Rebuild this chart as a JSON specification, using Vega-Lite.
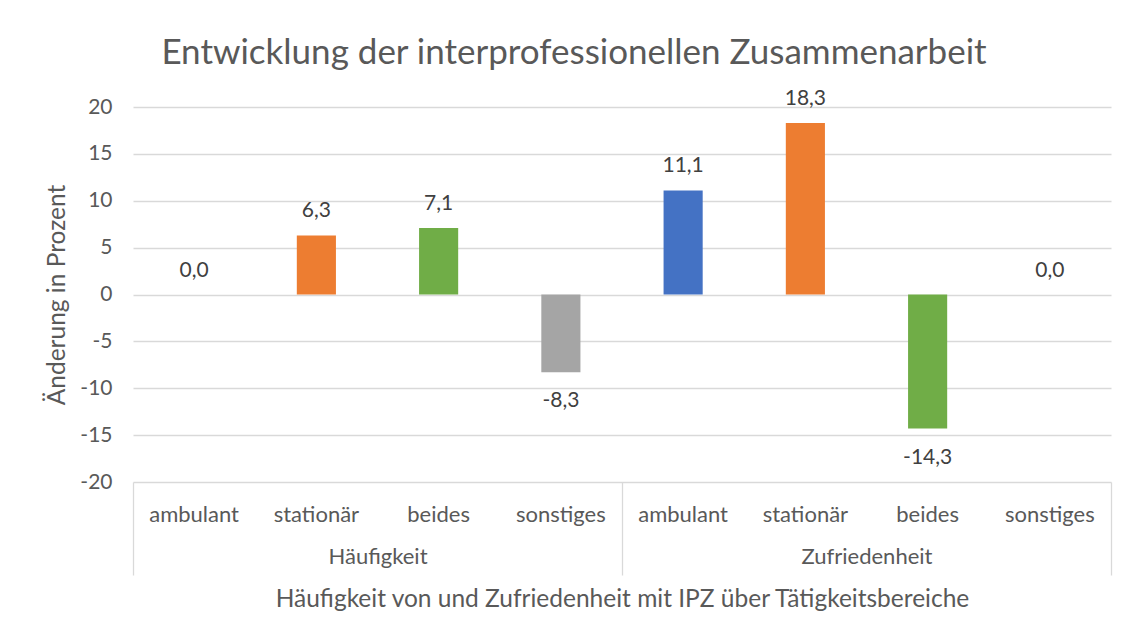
{
  "$schema": "https://vega.github.io/schema/vega-lite/v6.json",
  "width": 978,
  "height": 375,
  "autosize": {"type": "none"},
  "padding": {"left": 133, "top": 107, "right": 20, "bottom": 155},
  "background": "white",
  "config": {
    "locale": {"number": {"decimal": ",", "thousands": ".", "grouping": [3], "currency": ["", " €"], "minus": "-"}},
    "font": "Lato",
    "view": {"stroke": null},
    "axis": {"labelColor": "#595959", "titleColor": "#595959", "labelFont": "Lato", "titleFont": "Lato", "titleFontWeight": "normal"}
  },
  "title": {
    "text": "Entwicklung der interprofessionellen Zusammenarbeit",
    "fontSize": 35,
    "font": "Lato",
    "fontWeight": "normal",
    "color": "#595959",
    "anchor": "middle",
    "dx": -48,
    "offset": 17
  },
  "data": {
    "values": [
      {"key": "H|ambulant", "gruppe": "Häufigkeit", "kategorie": "ambulant", "wert": 0.0},
      {"key": "H|stationär", "gruppe": "Häufigkeit", "kategorie": "stationär", "wert": 6.3},
      {"key": "H|beides", "gruppe": "Häufigkeit", "kategorie": "beides", "wert": 7.1},
      {"key": "H|sonstiges", "gruppe": "Häufigkeit", "kategorie": "sonstiges", "wert": -8.3},
      {"key": "Z|ambulant", "gruppe": "Zufriedenheit", "kategorie": "ambulant", "wert": 11.1},
      {"key": "Z|stationär", "gruppe": "Zufriedenheit", "kategorie": "stationär", "wert": 18.3},
      {"key": "Z|beides", "gruppe": "Zufriedenheit", "kategorie": "beides", "wert": -14.3},
      {"key": "Z|sonstiges", "gruppe": "Zufriedenheit", "kategorie": "sonstiges", "wert": 0.0}
    ]
  },
  "layer": [
    {
      "encoding": {
        "x": {
          "field": "key",
          "type": "nominal",
          "sort": null,
          "scale": {"paddingInner": 0.68, "paddingOuter": 0.34},
          "axis": {
            "orient": "bottom",
            "title": null,
            "domain": false,
            "ticks": false,
            "grid": false,
            "labelAngle": 0,
            "labelFontSize": 22,
            "labelPadding": 22,
            "labelExpr": "split(datum.label, '|')[1]"
          }
        },
        "y": {
          "field": "wert",
          "type": "quantitative",
          "scale": {"domain": [-20, 20], "nice": false},
          "axis": {
            "title": "Änderung in Prozent",
            "titleFontSize": 24.5,
            "titlePadding": 10,
            "values": [-20, -15, -10, -5, 0, 5, 10, 15, 20],
            "format": "d",
            "domain": false,
            "ticks": false,
            "labelFontSize": 21,
            "labelPadding": 21,
            "gridColor": "#d9d9d9",
            "gridWidth": 1.3
          }
        }
      },
      "layer": [
        {
          "mark": {"type": "bar"},
          "encoding": {
            "color": {
              "field": "kategorie",
              "type": "nominal",
              "scale": {"domain": ["ambulant", "stationär", "beides", "sonstiges"], "range": ["#4472C4", "#ED7D31", "#70AD47", "#A5A5A5"]},
              "legend": null
            }
          }
        },
        {
          "transform": [{"filter": "datum.wert >= 0"}],
          "mark": {"type": "text", "baseline": "middle", "dy": -24, "fontSize": 21, "color": "#404040", "font": "Lato"},
          "encoding": {"text": {"field": "wert", "type": "quantitative", "format": ".1f"}}
        },
        {
          "transform": [{"filter": "datum.wert < 0"}],
          "mark": {"type": "text", "baseline": "middle", "dy": 29, "fontSize": 21, "color": "#404040", "font": "Lato"},
          "encoding": {"text": {"field": "wert", "type": "quantitative", "format": ".1f"}}
        }
      ]
    },
    {
      "mark": {"type": "tick", "opacity": 0},
      "encoding": {
        "x": {
          "field": "gruppe",
          "type": "nominal",
          "sort": null,
          "scale": {"paddingInner": 0, "paddingOuter": 0},
          "axis": {
            "orient": "bottom",
            "offset": 0,
            "domain": false,
            "grid": false,
            "ticks": true,
            "tickBand": "extent",
            "tickSize": 93,
            "tickColor": "#d9d9d9",
            "tickWidth": 1.3,
            "labelAngle": 0,
            "labelFontSize": 22,
            "labelPadding": -29,
            "title": "Häufigkeit von und Zufriedenheit mit IPZ über Tätigkeitsbereiche",
            "titleFontSize": 24.5,
            "titlePadding": 12
          }
        }
      }
    }
  ],
  "resolve": {"scale": {"x": "independent"}}
}
